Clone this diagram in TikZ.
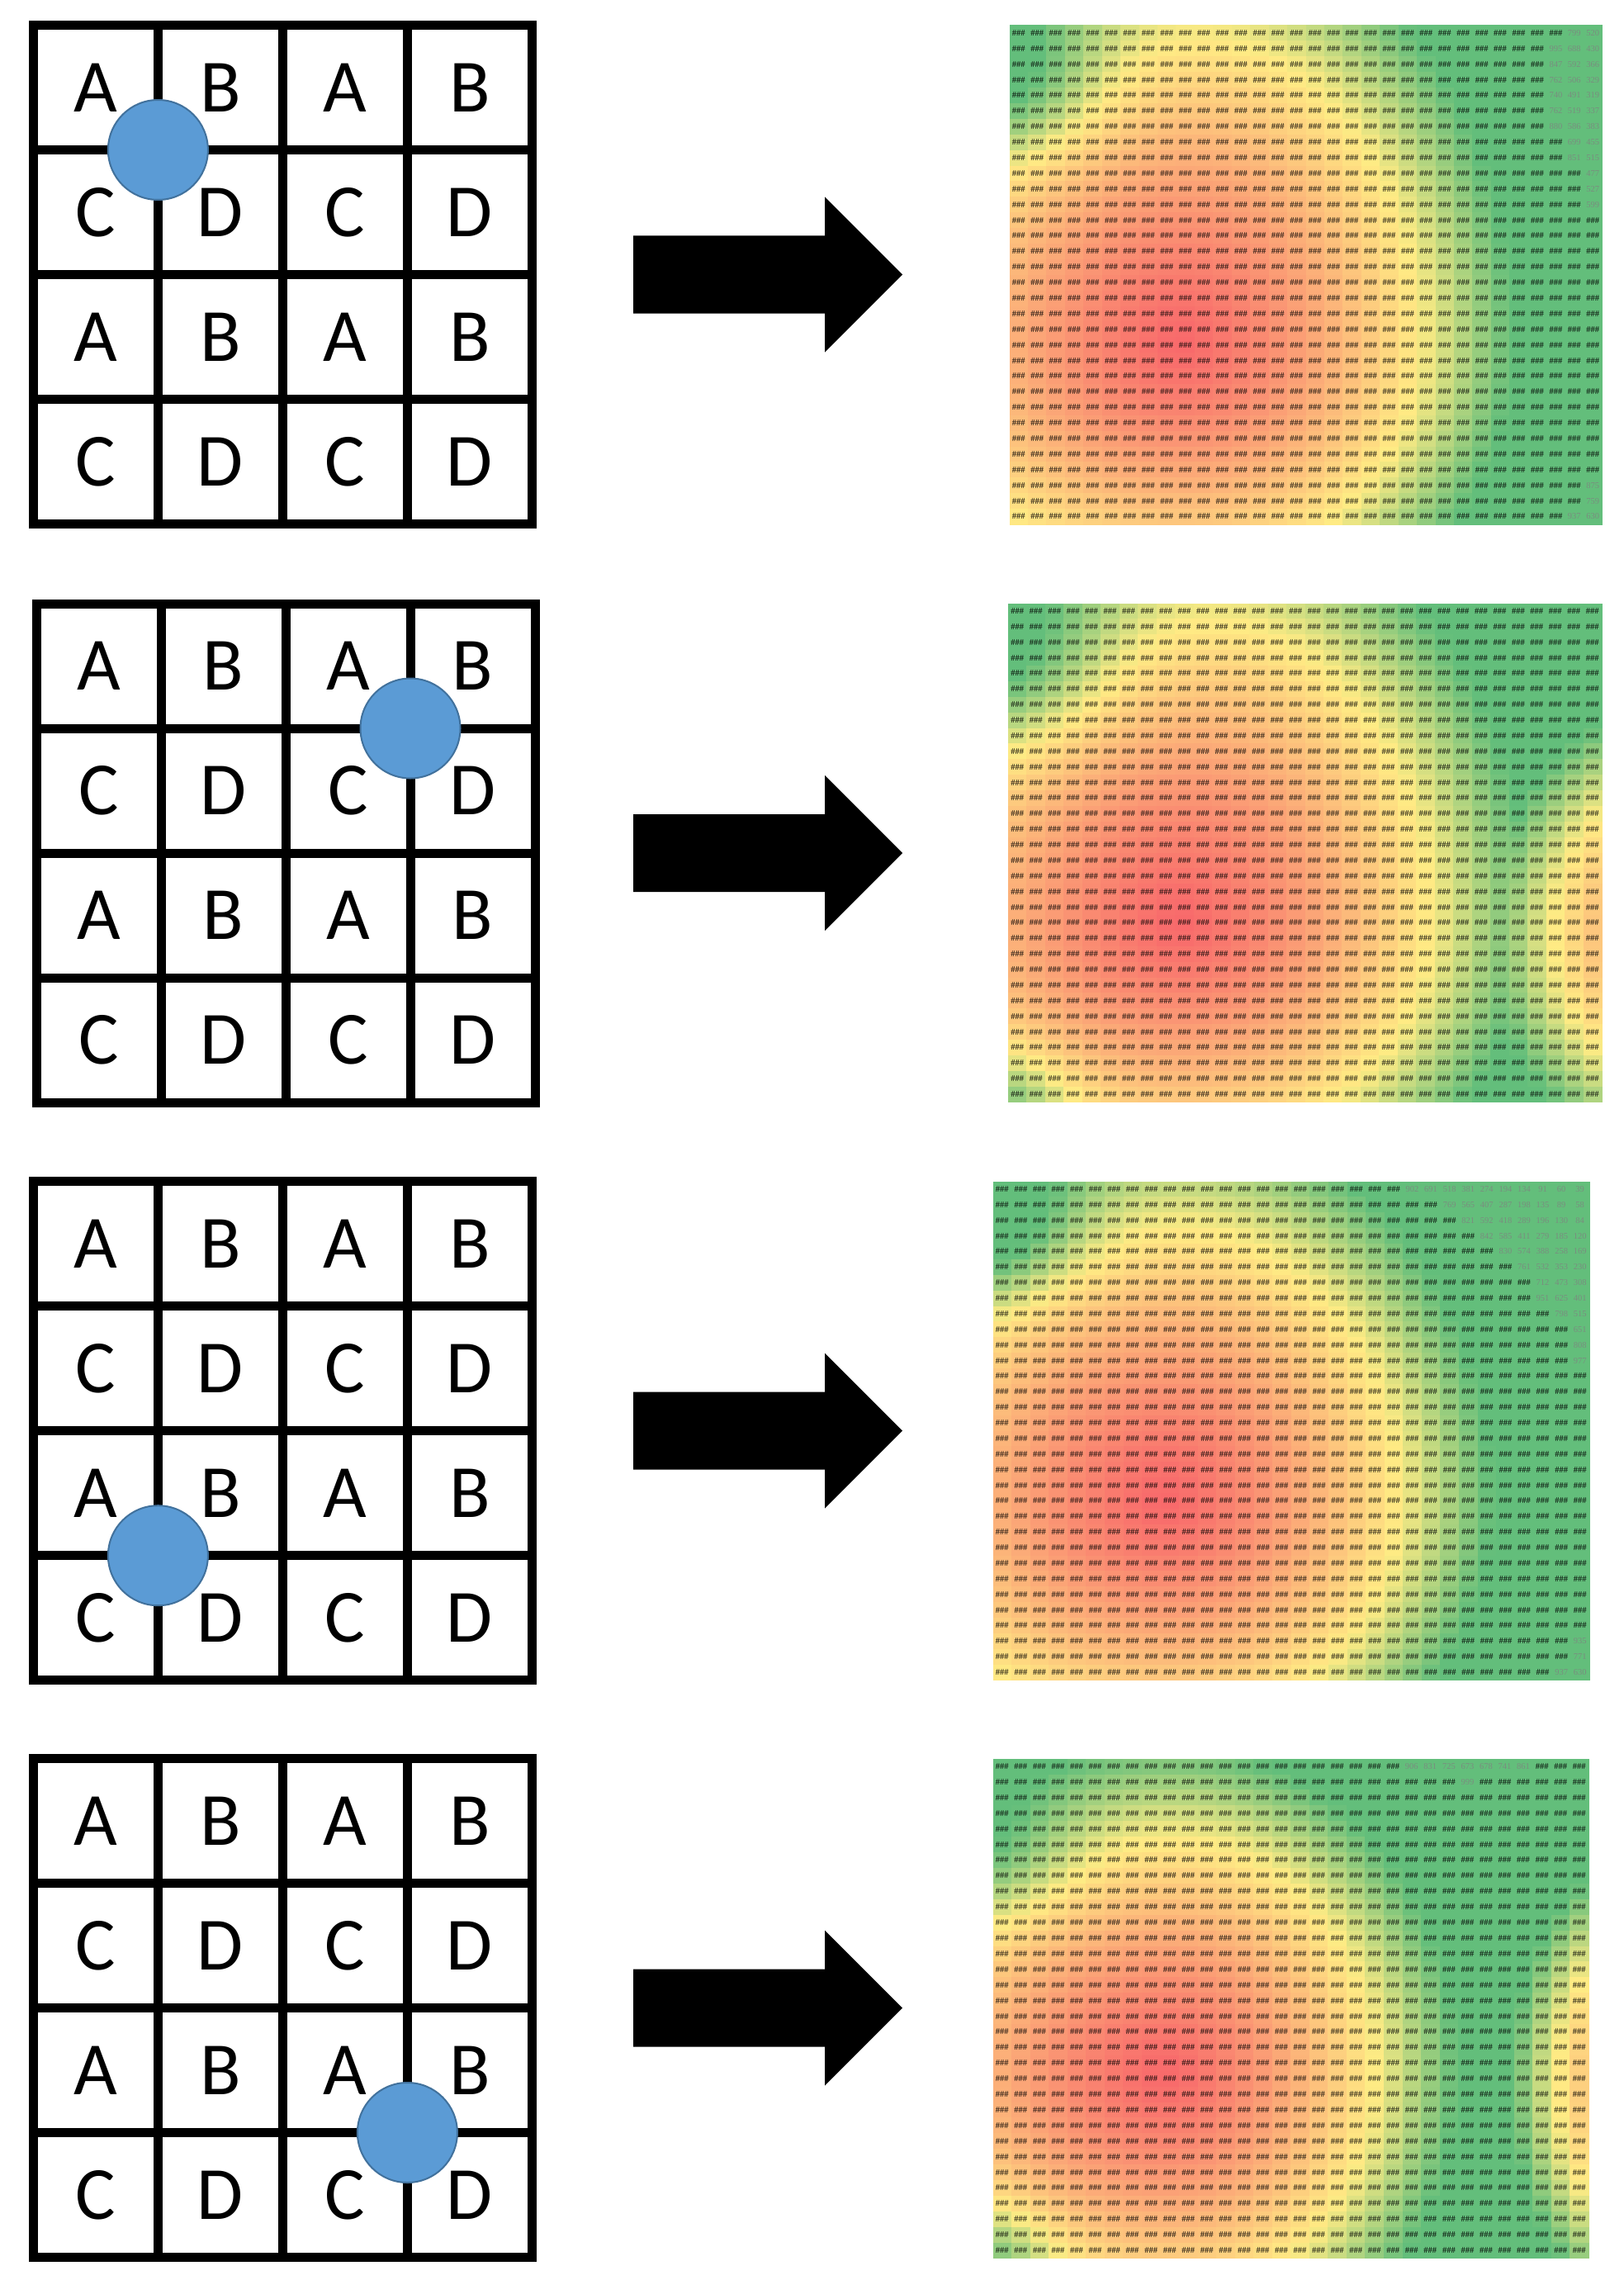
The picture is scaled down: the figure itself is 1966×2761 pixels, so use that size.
\documentclass[tikz,border=0pt]{standalone}
\usepackage{fontspec}
\setmainfont{Carlito}
\newfontfamily\numfont{Liberation Serif}
\definecolor{hmr}{HTML}{F8696B}
\definecolor{hmy}{HTML}{FFEB84}
\definecolor{hmg}{HTML}{63BE7B}
\definecolor{dotfill}{HTML}{5B9BD5}
\definecolor{dotline}{HTML}{41719C}
\colorlet{numc}{black!50}
\newlength\hcw
\newcommand\hh{\makebox[\hcw][c]{\#\#\#}}
\newcommand\hn[1]{\makebox[\hcw][c]{\mdseries\textcolor{numc}{#1}}}
\ExplSyntaxOn
\NewDocumentCommand\hhr{m}{\prg_replicate:nn{#1}{\hh}}
\ExplSyntaxOff
\newcommand\setrow[3]{\expandafter\def\csname hm#1r#2\endcsname{#3}}
\tikzset{
  gridline/.style={line width=11pt, draw=black},
  gletter/.style={font=\fontsize{91}{91}\selectfont, inner sep=0pt},
  dot/.style={circle, fill=dotfill, draw=dotline, line width=2pt, minimum size=121pt, inner sep=0pt},
  hrow/.style={font=\numfont\bfseries\fontsize{10.5}{10.5}\selectfont, inner sep=0pt, text=black, text opacity=0.8},
  bigarrow/.style={fill=black}
}
\newcommand\gs{151}
% grid: id, x0, y0, dot column line, dot row line
\newcommand\drawgrid[5]{%
  \foreach \k in {1,2,3}{%
    \draw[gridline] ({#2+\k*\gs},#3) -- ({#2+\k*\gs},{#3+4*\gs});
    \draw[gridline] (#2,{#3+\k*\gs}) -- ({#2+4*\gs},{#3+\k*\gs});
  }
  \draw[gridline] (#2,#3) rectangle ({#2+4*\gs},{#3+4*\gs});
  \foreach \gr in {0,...,3}{\foreach \gc in {0,...,3}{%
    \pgfmathtruncatemacro\lcode{mod(\gr,2)*2+mod(\gc,2)}%
    \node[gletter] (g#1-\gr-\gc) at ({#2+(\gc+0.5)*\gs},{#3+(\gr+0.5)*\gs}) {\ifcase\lcode A\or B\or C\or D\fi};
  }}
  \node[dot] (dot#1) at ({#2+#4*\gs},{#3+#5*\gs}) {};
}
% heat map: id, x0, y0, w, h
\newcommand\drawheat[5]{%
  \pgfmathsetmacro\cw{#4/32}%
  \pgfmathsetmacro\ch{#5/32}%
  \setlength\hcw{\cw pt}%
  \foreach \i in {0,...,31}{%
    \pgfmathsetmacro\uu{(\i+0.5)/32}%
    \pgfmathsetmacro\du{\uu-\hcx}%
    \pgfmathsetmacro\ax{(\du<0)*\haxL+(\du>=0)*\haxR}%
    \foreach \j in {0,...,31}{%
      \pgfmathsetmacro\vv{(\j+0.5)/32}%
      \pgfmathsetmacro\dv{\vv-\hcy}%
      \pgfmathsetmacro\ay{(\dv<0)*\hayU+(\dv>=0)*\hayD}%
      \pgfmathsetmacro\dA{sqrt((\du/\ax)^2+(\dv/\ay)^2)}%
      \pgfmathsetmacro\dB{sqrt(((\uu-\hcxB)/\haxB)^2+((\vv-\hcyB)/\hayB)^2)}%
      \pgfmathsetmacro\eA{\hgA*exp(max(-20,-((\uu-\hgAx)^2+(\vv-\hgAy)^2)/(\hgAs*\hgAs)))}%
      \pgfmathsetmacro\eB{\hgB*exp(max(-20,-((\uu-\hgBx)^2+(\vv-\hgBy)^2)/(\hgBs*\hgBs)))}%
      \pgfmathsetmacro\dd{min(\dA,\dB)+\eA+\eB}%
      \pgfmathsetmacro\pa{min(100,max(0,100*(min(\dd,1.2))^1.25))}%
      \pgfmathsetmacro\pb{min(100,max(0,100*(\dd-1)/0.4))}%
      \colorlet{tmpc}{hmy!\pa!hmr}%
      \colorlet{cellc}{hmg!\pb!tmpc}%
      \fill[cellc] ({#2+\i*\cw},{#3+\j*\ch}) rectangle ++({\cw+0.6},{\ch+0.6});
    }%
  }%
  \foreach \j in {0,...,31}{%
    \node[hrow] (h#1r\j) at ({#2+#4/2},{#3+(\j+0.5)*\ch}) {\ifcsname hm#1r\j\endcsname\csname hm#1r\j\endcsname\else\hhr{32}\fi};
  }%
}
% arrow: id, centre y
\newcommand\drawarrow[2]{%
  \coordinate (ar#1a) at (767,{#2-47});
  \coordinate (ar#1b) at (999,{#2-47});
  \coordinate (ar#1c) at (999,{#2-94});
  \coordinate (ar#1d) at (1093,#2);
  \coordinate (ar#1e) at (999,{#2+94});
  \coordinate (ar#1f) at (999,{#2+47});
  \coordinate (ar#1g) at (767,{#2+47});
  \fill[bigarrow] (ar#1a) -- (ar#1b) -- (ar#1c) -- (ar#1d) -- (ar#1e) -- (ar#1f) -- (ar#1g) -- cycle;
}
% readable numbers in the heat maps
\setrow{1}{0}{\hhr{30}\hn{799}\hn{520}}
\setrow{1}{1}{\hhr{29}\hn{995}\hn{688}\hn{430}}
\setrow{1}{2}{\hhr{29}\hn{847}\hn{592}\hn{366}}
\setrow{1}{3}{\hhr{29}\hn{762}\hn{506}\hn{329}}
\setrow{1}{4}{\hhr{29}\hn{740}\hn{491}\hn{319}}
\setrow{1}{5}{\hhr{29}\hn{762}\hn{519}\hn{337}}
\setrow{1}{6}{\hhr{29}\hn{880}\hn{586}\hn{383}}
\setrow{1}{7}{\hhr{30}\hn{699}\hn{455}}
\setrow{1}{8}{\hhr{30}\hn{851}\hn{515}}
\setrow{1}{9}{\hhr{31}\hn{477}}
\setrow{1}{10}{\hhr{31}\hn{527}}
\setrow{1}{11}{\hhr{31}\hn{599}}
\setrow{1}{29}{\hhr{31}\hn{875}}
\setrow{1}{30}{\hhr{31}\hn{759}}
\setrow{1}{31}{\hhr{30}\hn{937}\hn{630}}
\setrow{3}{0}{\hhr{22}\hn{902}\hn{691}\hn{518}\hn{381}\hn{274}\hn{194}\hn{134}\hn{91}\hn{60}\hn{39}}
\setrow{3}{1}{\hhr{24}\hn{769}\hn{565}\hn{407}\hn{287}\hn{198}\hn{135}\hn{89}\hn{58}}
\setrow{3}{2}{\hhr{25}\hn{821}\hn{592}\hn{418}\hn{289}\hn{196}\hn{130}\hn{84}}
\setrow{3}{3}{\hhr{26}\hn{842}\hn{585}\hn{411}\hn{279}\hn{185}\hn{120}}
\setrow{3}{4}{\hhr{27}\hn{830}\hn{574}\hn{388}\hn{258}\hn{169}}
\setrow{3}{5}{\hhr{28}\hn{761}\hn{532}\hn{353}\hn{230}}
\setrow{3}{6}{\hhr{29}\hn{712}\hn{473}\hn{308}}
\setrow{3}{7}{\hhr{29}\hn{951}\hn{625}\hn{401}}
\setrow{3}{8}{\hhr{30}\hn{798}\hn{515}}
\setrow{3}{9}{\hhr{31}\hn{651}}
\setrow{3}{10}{\hhr{31}\hn{808}}
\setrow{3}{11}{\hhr{31}\hn{977}}
\setrow{3}{29}{\hhr{31}\hn{935}}
\setrow{3}{30}{\hhr{31}\hn{771}}
\setrow{3}{31}{\hhr{30}\hn{937}\hn{630}}
\setrow{4}{0}{\hhr{22}\hn{906}\hn{831}\hn{725}\hn{673}\hn{678}\hn{741}\hn{861}\hhr{3}}
\setrow{4}{1}{\hhr{25}\hn{999}\hhr{6}}
\begin{document}
\begin{tikzpicture}[x=1pt,y=-1pt]
\useasboundingbox (0,0) rectangle (1966,2761);
\fill[white] (0,0) rectangle (1966,2761);
% grids
\drawgrid{1}{40.4}{30.5}{1}{1}
\drawgrid{2}{44}{731}{3}{1}
\drawgrid{3}{40.4}{1430.7}{1}{3}
\drawgrid{4}{40.4}{2129.5}{3}{3}
% arrows
\drawarrow{1}{332.5}
\drawarrow{2}{1033}
\drawarrow{3}{1732.7}
\drawarrow{4}{2431.5}
% heat map 1
\def\hcx{0.29}\def\hcy{0.64}\def\haxL{0.45}\def\haxR{0.40}\def\hayU{0.62}\def\hayD{0.45}
\def\hcxB{5}\def\hcyB{5}\def\haxB{1}\def\hayB{1}
\def\hgA{0.4}\def\hgAx{0}\def\hgAy{0.12}\def\hgAs{0.17}
\def\hgB{0}\def\hgBx{0}\def\hgBy{1}\def\hgBs{0.12}
\drawheat{1}{1222.5}{30.5}{718}{604.5}
% heat map 2
\def\hcx{0.29}\def\hcy{0.64}\def\haxL{0.45}\def\haxR{0.42}\def\hayU{0.62}\def\hayD{0.45}
\def\hcxB{1.2}\def\hcyB{0.66}\def\haxB{0.28}\def\hayB{0.35}
\def\hgA{0.4}\def\hgAx{0}\def\hgAy{0.12}\def\hgAs{0.2}
\def\hgB{0.3}\def\hgBx{0}\def\hgBy{1}\def\hgBs{0.12}
\drawheat{2}{1221}{730.5}{719}{604}
% heat map 3
\def\hcx{0.29}\def\hcy{0.64}\def\haxL{0.45}\def\haxR{0.39}\def\hayU{0.55}\def\hayD{0.45}
\def\hcxB{5}\def\hcyB{5}\def\haxB{1}\def\hayB{1}
\def\hgA{0.4}\def\hgAx{0}\def\hgAy{0.1}\def\hgAs{0.15}
\def\hgB{0}\def\hgBx{0}\def\hgBy{1}\def\hgBs{0.12}
\drawheat{3}{1202.5}{1430.5}{722.5}{604}
% heat map 4
\def\hcx{0.29}\def\hcy{0.63}\def\haxL{0.45}\def\haxR{0.35}\def\hayU{0.47}\def\hayD{0.45}
\def\hcxB{1.15}\def\hcyB{0.65}\def\haxB{0.2}\def\hayB{0.35}
\def\hgA{0.25}\def\hgAx{0}\def\hgAy{0.2}\def\hgAs{0.15}
\def\hgB{0.3}\def\hgBx{0}\def\hgBy{1}\def\hgBs{0.12}
\drawheat{4}{1202.5}{2129.6}{721.5}{605}
\end{tikzpicture}
\end{document}
